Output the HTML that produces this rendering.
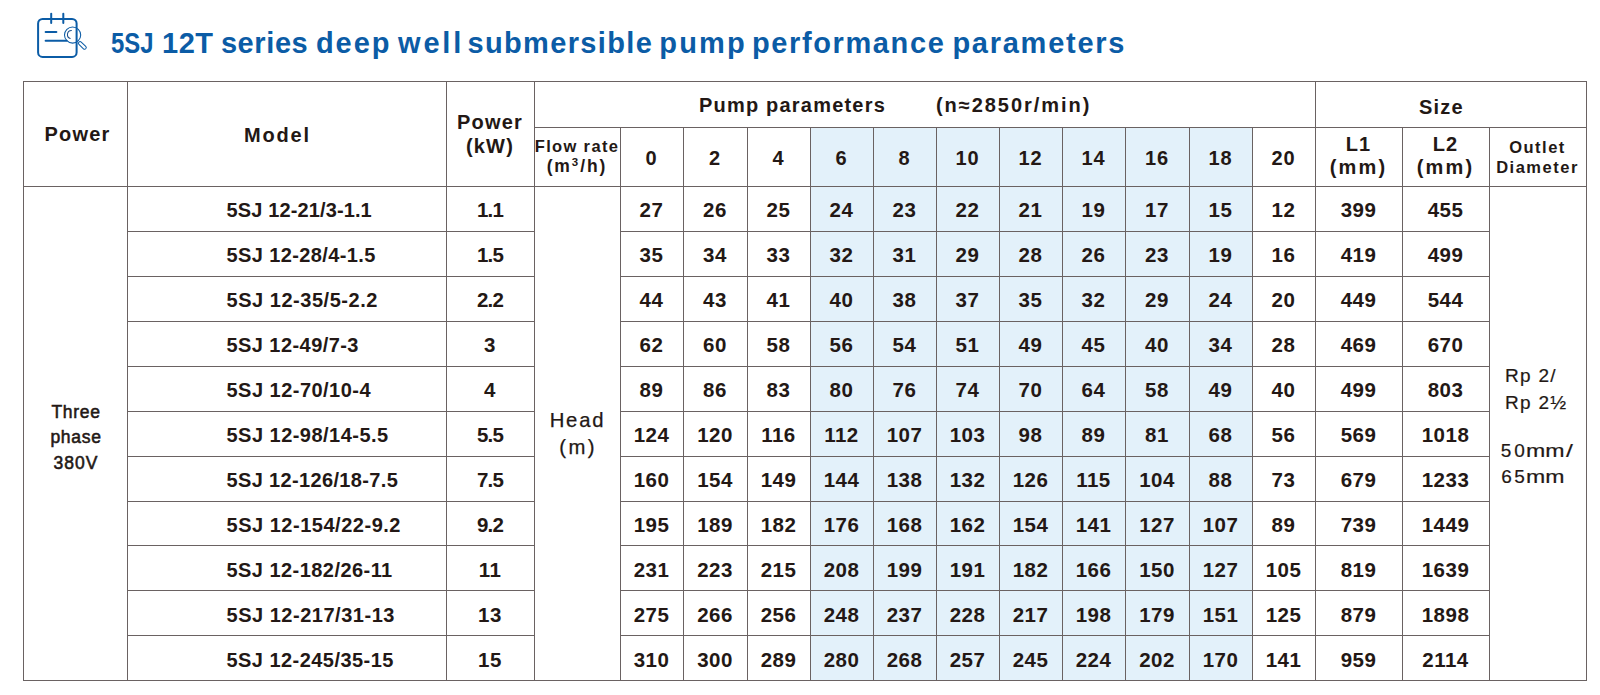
<!DOCTYPE html>
<html><head><meta charset="utf-8"><style>
*{margin:0;padding:0;box-sizing:border-box}
html,body{width:1600px;height:695px;overflow:hidden;background:#fff}
body{position:relative;font-family:"Liberation Sans",sans-serif;color:#231815}
i{position:absolute;background:#6a6262;display:block}
b.hl{position:absolute;background:#e3f1fa;display:block}
.c{position:absolute;display:flex;align-items:center;justify-content:center;text-align:center;white-space:nowrap;line-height:1}
.t{position:absolute;white-space:nowrap;font-weight:bold;line-height:1.5}
sup{font-size:11.5px;position:relative;top:1px;vertical-align:top;line-height:1;letter-spacing:2px}
.a{position:absolute;white-space:nowrap;line-height:1}
.icon{position:absolute;left:0;top:0}
.title{position:absolute;transform-origin:0 0;top:29px;font-size:29px;font-weight:bold;color:#0b5ca6;white-space:nowrap;letter-spacing:0.94px;line-height:1}
</style></head><body>
<svg class="icon" width="100" height="70" viewBox="0 0 100 70">
<g fill="none" stroke="#0b5ca6" stroke-linecap="round">
<rect x="38.1" y="18.9" width="38.5" height="38" rx="4.5" stroke-width="2"/>
<line x1="51.2" y1="13.8" x2="51.2" y2="23" stroke-width="2"/>
<line x1="63.3" y1="13.8" x2="63.3" y2="23" stroke-width="2"/>
<line x1="45.6" y1="32" x2="56.4" y2="32" stroke-width="2"/>
<line x1="45.6" y1="40.8" x2="66.6" y2="40.8" stroke-width="2"/>
<circle cx="72.6" cy="35" r="8.1" stroke-width="1.05"/>
<path d="M71.4 30.6 A4 4 0 0 0 70.2 38.4" stroke-width="1.05" stroke="#1d4f8a"/>
<rect x="78.9" y="40.4" width="9.6" height="3.3" rx="1.65" transform="rotate(44.2 78.9 42.05)" stroke-width="1"/>
</g></svg>
<div class="title" style="left:110.68px;letter-spacing:0px;transform:scaleX(0.8245)">5SJ</div><div class="title" style="left:162px;letter-spacing:0.55px;transform:scaleX(1)">12T</div><div class="title" style="left:220.9px;letter-spacing:0.6px;transform:scaleX(1)">series</div><div class="title" style="left:315.9px;letter-spacing:1.95px;transform:scaleX(1)">deep</div><div class="title" style="left:398.1px;letter-spacing:2.767px;transform:scaleX(1)">well</div><div class="title" style="left:467.5px;letter-spacing:1.35px;transform:scaleX(1)">submersible</div><div class="title" style="left:659.25px;letter-spacing:2.167px;transform:scaleX(1)">pump</div><div class="title" style="left:752px;letter-spacing:1.61px;transform:scaleX(1)">performance</div><div class="title" style="left:952.4px;letter-spacing:1.744px;transform:scaleX(1)">parameters</div>
<b class="hl" style="left:810px;top:127px;width:442px;height:553px"></b>
<i style="left:23px;top:81px;width:1564px;height:1px"></i>
<i style="left:534px;top:127px;width:1053px;height:1px"></i>
<i style="left:23px;top:186px;width:1564px;height:1px"></i>
<i style="left:127px;top:231px;width:407px;height:1px"></i>
<i style="left:620px;top:231px;width:869px;height:1px"></i>
<i style="left:127px;top:276px;width:407px;height:1px"></i>
<i style="left:620px;top:276px;width:869px;height:1px"></i>
<i style="left:127px;top:321px;width:407px;height:1px"></i>
<i style="left:620px;top:321px;width:869px;height:1px"></i>
<i style="left:127px;top:366px;width:407px;height:1px"></i>
<i style="left:620px;top:366px;width:869px;height:1px"></i>
<i style="left:127px;top:411px;width:407px;height:1px"></i>
<i style="left:620px;top:411px;width:869px;height:1px"></i>
<i style="left:127px;top:456px;width:407px;height:1px"></i>
<i style="left:620px;top:456px;width:869px;height:1px"></i>
<i style="left:127px;top:501px;width:407px;height:1px"></i>
<i style="left:620px;top:501px;width:869px;height:1px"></i>
<i style="left:127px;top:545px;width:407px;height:1px"></i>
<i style="left:620px;top:545px;width:869px;height:1px"></i>
<i style="left:127px;top:590px;width:407px;height:1px"></i>
<i style="left:620px;top:590px;width:869px;height:1px"></i>
<i style="left:127px;top:635px;width:407px;height:1px"></i>
<i style="left:620px;top:635px;width:869px;height:1px"></i>
<i style="left:23px;top:680px;width:1564px;height:1px"></i>
<i style="left:23px;top:81px;width:1px;height:600px"></i>
<i style="left:127px;top:81px;width:1px;height:600px"></i>
<i style="left:446px;top:81px;width:1px;height:600px"></i>
<i style="left:534px;top:81px;width:1px;height:600px"></i>
<i style="left:1315px;top:81px;width:1px;height:600px"></i>
<i style="left:1586px;top:81px;width:1px;height:600px"></i>
<i style="left:620px;top:127px;width:1px;height:554px"></i>
<i style="left:683px;top:127px;width:1px;height:554px"></i>
<i style="left:747px;top:127px;width:1px;height:554px"></i>
<i style="left:810px;top:127px;width:1px;height:554px"></i>
<i style="left:873px;top:127px;width:1px;height:554px"></i>
<i style="left:936px;top:127px;width:1px;height:554px"></i>
<i style="left:999px;top:127px;width:1px;height:554px"></i>
<i style="left:1062px;top:127px;width:1px;height:554px"></i>
<i style="left:1125px;top:127px;width:1px;height:554px"></i>
<i style="left:1189px;top:127px;width:1px;height:554px"></i>
<i style="left:1252px;top:127px;width:1px;height:554px"></i>
<i style="left:1402px;top:127px;width:1px;height:554px"></i>
<i style="left:1489px;top:127px;width:1px;height:554px"></i>
<div class="c" style="left:25.5px;top:81.5px;width:104px;height:105px;font-size:20px;font-weight:bold;letter-spacing:1.2px;"><span>Power</span></div>
<div class="c" style="left:118px;top:82px;width:319px;height:105px;font-size:20px;font-weight:bold;letter-spacing:1.8px;"><span>Model</span></div>
<div class="c" style="left:446px;top:81px;width:88px;height:105px;font-size:20px;font-weight:bold;letter-spacing:1.2px;line-height:24px;"><span>Power<br>(kW)</span></div>
<div class="t" style="left:699px;top:89.5px;font-size:20px;letter-spacing:1.2px">Pump parameters</div>
<div class="t" style="left:936px;top:89.5px;font-size:20px;letter-spacing:1.95px">(n≈2850r/min)</div>
<div class="c" style="left:1306px;top:83.5px;width:271px;height:46px;font-size:20px;font-weight:bold;letter-spacing:1.2px;"><span>Size</span></div>
<div class="c" style="left:534px;top:126.5px;width:86px;height:59px;font-size:16.5px;font-weight:bold;letter-spacing:1.35px;line-height:20px;"><span>Flow rate<br><span style="letter-spacing:1.9px;font-size:17.5px">(m<sup>3</sup>/h)</span></span></div>
<div class="c" style="left:620px;top:128px;width:63px;height:59px;font-size:20px;font-weight:bold;letter-spacing:1px;"><span>0</span></div>
<div class="c" style="left:683px;top:128px;width:64px;height:59px;font-size:20px;font-weight:bold;letter-spacing:1px;"><span>2</span></div>
<div class="c" style="left:747px;top:128px;width:63px;height:59px;font-size:20px;font-weight:bold;letter-spacing:1px;"><span>4</span></div>
<div class="c" style="left:810px;top:128px;width:63px;height:59px;font-size:20px;font-weight:bold;letter-spacing:1px;"><span>6</span></div>
<div class="c" style="left:873px;top:128px;width:63px;height:59px;font-size:20px;font-weight:bold;letter-spacing:1px;"><span>8</span></div>
<div class="c" style="left:936px;top:128px;width:63px;height:59px;font-size:20px;font-weight:bold;letter-spacing:1px;"><span>10</span></div>
<div class="c" style="left:999px;top:128px;width:63px;height:59px;font-size:20px;font-weight:bold;letter-spacing:1px;"><span>12</span></div>
<div class="c" style="left:1062px;top:128px;width:63px;height:59px;font-size:20px;font-weight:bold;letter-spacing:1px;"><span>14</span></div>
<div class="c" style="left:1125px;top:128px;width:64px;height:59px;font-size:20px;font-weight:bold;letter-spacing:1px;"><span>16</span></div>
<div class="c" style="left:1189px;top:128px;width:63px;height:59px;font-size:20px;font-weight:bold;letter-spacing:1px;"><span>18</span></div>
<div class="c" style="left:1252px;top:128px;width:63px;height:59px;font-size:20px;font-weight:bold;letter-spacing:1px;"><span>20</span></div>
<div class="c" style="left:1315px;top:126.0px;width:87px;height:59px;font-size:20px;font-weight:bold;letter-spacing:1.2px;line-height:23px;"><span>L1<br><span style="letter-spacing:2.2px">(mm)</span></span></div>
<div class="c" style="left:1402px;top:126.0px;width:87px;height:59px;font-size:20px;font-weight:bold;letter-spacing:1.2px;line-height:23px;"><span>L2<br><span style="letter-spacing:2.2px">(mm)</span></span></div>
<div class="c" style="left:1489px;top:127px;width:97px;height:59px;font-size:16.5px;font-weight:bold;letter-spacing:1.5px;line-height:20px;"><span>Outlet<br>Diameter</span></div>
<div class="t" style="left:226.5px;top:195.00px;font-size:20px;letter-spacing:0.129px">5SJ 12-21/3-1.1</div>
<div class="c" style="left:446px;top:187.63px;width:88px;height:45.0px;font-size:20.5px;font-weight:bold;letter-spacing:-0.8px;"><span>1.1</span></div>
<div class="c" style="left:620px;top:187.63px;width:63px;height:45.0px;font-size:20.5px;font-weight:bold;letter-spacing:0.5px;"><span>27</span></div>
<div class="c" style="left:683px;top:187.63px;width:64px;height:45.0px;font-size:20.5px;font-weight:bold;letter-spacing:0.5px;"><span>26</span></div>
<div class="c" style="left:747px;top:187.63px;width:63px;height:45.0px;font-size:20.5px;font-weight:bold;letter-spacing:0.5px;"><span>25</span></div>
<div class="c" style="left:810px;top:187.63px;width:63px;height:45.0px;font-size:20.5px;font-weight:bold;letter-spacing:0.5px;"><span>24</span></div>
<div class="c" style="left:873px;top:187.63px;width:63px;height:45.0px;font-size:20.5px;font-weight:bold;letter-spacing:0.5px;"><span>23</span></div>
<div class="c" style="left:936px;top:187.63px;width:63px;height:45.0px;font-size:20.5px;font-weight:bold;letter-spacing:0.5px;"><span>22</span></div>
<div class="c" style="left:999px;top:187.63px;width:63px;height:45.0px;font-size:20.5px;font-weight:bold;letter-spacing:0.5px;"><span>21</span></div>
<div class="c" style="left:1062px;top:187.63px;width:63px;height:45.0px;font-size:20.5px;font-weight:bold;letter-spacing:0.5px;"><span>19</span></div>
<div class="c" style="left:1125px;top:187.63px;width:64px;height:45.0px;font-size:20.5px;font-weight:bold;letter-spacing:0.5px;"><span>17</span></div>
<div class="c" style="left:1189px;top:187.63px;width:63px;height:45.0px;font-size:20.5px;font-weight:bold;letter-spacing:0.5px;"><span>15</span></div>
<div class="c" style="left:1252px;top:187.63px;width:63px;height:45.0px;font-size:20.5px;font-weight:bold;letter-spacing:0.5px;"><span>12</span></div>
<div class="c" style="left:1315px;top:187.63px;width:87px;height:45.0px;font-size:20.5px;font-weight:bold;letter-spacing:0.5px;"><span>399</span></div>
<div class="c" style="left:1402px;top:187.63px;width:87px;height:45.0px;font-size:20.5px;font-weight:bold;letter-spacing:0.5px;"><span>455</span></div>
<div class="t" style="left:226.5px;top:240.02px;font-size:20px;letter-spacing:0.393px">5SJ 12-28/4-1.5</div>
<div class="c" style="left:446px;top:232.65px;width:88px;height:44.99999999999997px;font-size:20.5px;font-weight:bold;letter-spacing:-0.8px;"><span>1.5</span></div>
<div class="c" style="left:620px;top:232.65px;width:63px;height:44.99999999999997px;font-size:20.5px;font-weight:bold;letter-spacing:0.5px;"><span>35</span></div>
<div class="c" style="left:683px;top:232.65px;width:64px;height:44.99999999999997px;font-size:20.5px;font-weight:bold;letter-spacing:0.5px;"><span>34</span></div>
<div class="c" style="left:747px;top:232.65px;width:63px;height:44.99999999999997px;font-size:20.5px;font-weight:bold;letter-spacing:0.5px;"><span>33</span></div>
<div class="c" style="left:810px;top:232.65px;width:63px;height:44.99999999999997px;font-size:20.5px;font-weight:bold;letter-spacing:0.5px;"><span>32</span></div>
<div class="c" style="left:873px;top:232.65px;width:63px;height:44.99999999999997px;font-size:20.5px;font-weight:bold;letter-spacing:0.5px;"><span>31</span></div>
<div class="c" style="left:936px;top:232.65px;width:63px;height:44.99999999999997px;font-size:20.5px;font-weight:bold;letter-spacing:0.5px;"><span>29</span></div>
<div class="c" style="left:999px;top:232.65px;width:63px;height:44.99999999999997px;font-size:20.5px;font-weight:bold;letter-spacing:0.5px;"><span>28</span></div>
<div class="c" style="left:1062px;top:232.65px;width:63px;height:44.99999999999997px;font-size:20.5px;font-weight:bold;letter-spacing:0.5px;"><span>26</span></div>
<div class="c" style="left:1125px;top:232.65px;width:64px;height:44.99999999999997px;font-size:20.5px;font-weight:bold;letter-spacing:0.5px;"><span>23</span></div>
<div class="c" style="left:1189px;top:232.65px;width:63px;height:44.99999999999997px;font-size:20.5px;font-weight:bold;letter-spacing:0.5px;"><span>19</span></div>
<div class="c" style="left:1252px;top:232.65px;width:63px;height:44.99999999999997px;font-size:20.5px;font-weight:bold;letter-spacing:0.5px;"><span>16</span></div>
<div class="c" style="left:1315px;top:232.65px;width:87px;height:44.99999999999997px;font-size:20.5px;font-weight:bold;letter-spacing:0.5px;"><span>419</span></div>
<div class="c" style="left:1402px;top:232.65px;width:87px;height:44.99999999999997px;font-size:20.5px;font-weight:bold;letter-spacing:0.5px;"><span>499</span></div>
<div class="t" style="left:226.5px;top:285.04px;font-size:20px;letter-spacing:0.536px">5SJ 12-35/5-2.2</div>
<div class="c" style="left:446px;top:277.67px;width:88px;height:45.0px;font-size:20.5px;font-weight:bold;letter-spacing:-0.8px;"><span>2.2</span></div>
<div class="c" style="left:620px;top:277.67px;width:63px;height:45.0px;font-size:20.5px;font-weight:bold;letter-spacing:0.5px;"><span>44</span></div>
<div class="c" style="left:683px;top:277.67px;width:64px;height:45.0px;font-size:20.5px;font-weight:bold;letter-spacing:0.5px;"><span>43</span></div>
<div class="c" style="left:747px;top:277.67px;width:63px;height:45.0px;font-size:20.5px;font-weight:bold;letter-spacing:0.5px;"><span>41</span></div>
<div class="c" style="left:810px;top:277.67px;width:63px;height:45.0px;font-size:20.5px;font-weight:bold;letter-spacing:0.5px;"><span>40</span></div>
<div class="c" style="left:873px;top:277.67px;width:63px;height:45.0px;font-size:20.5px;font-weight:bold;letter-spacing:0.5px;"><span>38</span></div>
<div class="c" style="left:936px;top:277.67px;width:63px;height:45.0px;font-size:20.5px;font-weight:bold;letter-spacing:0.5px;"><span>37</span></div>
<div class="c" style="left:999px;top:277.67px;width:63px;height:45.0px;font-size:20.5px;font-weight:bold;letter-spacing:0.5px;"><span>35</span></div>
<div class="c" style="left:1062px;top:277.67px;width:63px;height:45.0px;font-size:20.5px;font-weight:bold;letter-spacing:0.5px;"><span>32</span></div>
<div class="c" style="left:1125px;top:277.67px;width:64px;height:45.0px;font-size:20.5px;font-weight:bold;letter-spacing:0.5px;"><span>29</span></div>
<div class="c" style="left:1189px;top:277.67px;width:63px;height:45.0px;font-size:20.5px;font-weight:bold;letter-spacing:0.5px;"><span>24</span></div>
<div class="c" style="left:1252px;top:277.67px;width:63px;height:45.0px;font-size:20.5px;font-weight:bold;letter-spacing:0.5px;"><span>20</span></div>
<div class="c" style="left:1315px;top:277.67px;width:87px;height:45.0px;font-size:20.5px;font-weight:bold;letter-spacing:0.5px;"><span>449</span></div>
<div class="c" style="left:1402px;top:277.67px;width:87px;height:45.0px;font-size:20.5px;font-weight:bold;letter-spacing:0.5px;"><span>544</span></div>
<div class="t" style="left:226.5px;top:330.06px;font-size:20px;letter-spacing:0.433px">5SJ 12-49/7-3</div>
<div class="c" style="left:446px;top:322.69000000000005px;width:88px;height:45.0px;font-size:20.5px;font-weight:bold;letter-spacing:0.5px;"><span>3</span></div>
<div class="c" style="left:620px;top:322.69000000000005px;width:63px;height:45.0px;font-size:20.5px;font-weight:bold;letter-spacing:0.5px;"><span>62</span></div>
<div class="c" style="left:683px;top:322.69000000000005px;width:64px;height:45.0px;font-size:20.5px;font-weight:bold;letter-spacing:0.5px;"><span>60</span></div>
<div class="c" style="left:747px;top:322.69000000000005px;width:63px;height:45.0px;font-size:20.5px;font-weight:bold;letter-spacing:0.5px;"><span>58</span></div>
<div class="c" style="left:810px;top:322.69000000000005px;width:63px;height:45.0px;font-size:20.5px;font-weight:bold;letter-spacing:0.5px;"><span>56</span></div>
<div class="c" style="left:873px;top:322.69000000000005px;width:63px;height:45.0px;font-size:20.5px;font-weight:bold;letter-spacing:0.5px;"><span>54</span></div>
<div class="c" style="left:936px;top:322.69000000000005px;width:63px;height:45.0px;font-size:20.5px;font-weight:bold;letter-spacing:0.5px;"><span>51</span></div>
<div class="c" style="left:999px;top:322.69000000000005px;width:63px;height:45.0px;font-size:20.5px;font-weight:bold;letter-spacing:0.5px;"><span>49</span></div>
<div class="c" style="left:1062px;top:322.69000000000005px;width:63px;height:45.0px;font-size:20.5px;font-weight:bold;letter-spacing:0.5px;"><span>45</span></div>
<div class="c" style="left:1125px;top:322.69000000000005px;width:64px;height:45.0px;font-size:20.5px;font-weight:bold;letter-spacing:0.5px;"><span>40</span></div>
<div class="c" style="left:1189px;top:322.69000000000005px;width:63px;height:45.0px;font-size:20.5px;font-weight:bold;letter-spacing:0.5px;"><span>34</span></div>
<div class="c" style="left:1252px;top:322.69000000000005px;width:63px;height:45.0px;font-size:20.5px;font-weight:bold;letter-spacing:0.5px;"><span>28</span></div>
<div class="c" style="left:1315px;top:322.69000000000005px;width:87px;height:45.0px;font-size:20.5px;font-weight:bold;letter-spacing:0.5px;"><span>469</span></div>
<div class="c" style="left:1402px;top:322.69000000000005px;width:87px;height:45.0px;font-size:20.5px;font-weight:bold;letter-spacing:0.5px;"><span>670</span></div>
<div class="t" style="left:226.5px;top:375.08px;font-size:20px;letter-spacing:0.477px">5SJ 12-70/10-4</div>
<div class="c" style="left:446px;top:367.71000000000004px;width:88px;height:45.0px;font-size:20.5px;font-weight:bold;letter-spacing:0.5px;"><span>4</span></div>
<div class="c" style="left:620px;top:367.71000000000004px;width:63px;height:45.0px;font-size:20.5px;font-weight:bold;letter-spacing:0.5px;"><span>89</span></div>
<div class="c" style="left:683px;top:367.71000000000004px;width:64px;height:45.0px;font-size:20.5px;font-weight:bold;letter-spacing:0.5px;"><span>86</span></div>
<div class="c" style="left:747px;top:367.71000000000004px;width:63px;height:45.0px;font-size:20.5px;font-weight:bold;letter-spacing:0.5px;"><span>83</span></div>
<div class="c" style="left:810px;top:367.71000000000004px;width:63px;height:45.0px;font-size:20.5px;font-weight:bold;letter-spacing:0.5px;"><span>80</span></div>
<div class="c" style="left:873px;top:367.71000000000004px;width:63px;height:45.0px;font-size:20.5px;font-weight:bold;letter-spacing:0.5px;"><span>76</span></div>
<div class="c" style="left:936px;top:367.71000000000004px;width:63px;height:45.0px;font-size:20.5px;font-weight:bold;letter-spacing:0.5px;"><span>74</span></div>
<div class="c" style="left:999px;top:367.71000000000004px;width:63px;height:45.0px;font-size:20.5px;font-weight:bold;letter-spacing:0.5px;"><span>70</span></div>
<div class="c" style="left:1062px;top:367.71000000000004px;width:63px;height:45.0px;font-size:20.5px;font-weight:bold;letter-spacing:0.5px;"><span>64</span></div>
<div class="c" style="left:1125px;top:367.71000000000004px;width:64px;height:45.0px;font-size:20.5px;font-weight:bold;letter-spacing:0.5px;"><span>58</span></div>
<div class="c" style="left:1189px;top:367.71000000000004px;width:63px;height:45.0px;font-size:20.5px;font-weight:bold;letter-spacing:0.5px;"><span>49</span></div>
<div class="c" style="left:1252px;top:367.71000000000004px;width:63px;height:45.0px;font-size:20.5px;font-weight:bold;letter-spacing:0.5px;"><span>40</span></div>
<div class="c" style="left:1315px;top:367.71000000000004px;width:87px;height:45.0px;font-size:20.5px;font-weight:bold;letter-spacing:0.5px;"><span>499</span></div>
<div class="c" style="left:1402px;top:367.71000000000004px;width:87px;height:45.0px;font-size:20.5px;font-weight:bold;letter-spacing:0.5px;"><span>803</span></div>
<div class="t" style="left:226.5px;top:420.10px;font-size:20px;letter-spacing:0.473px">5SJ 12-98/14-5.5</div>
<div class="c" style="left:446px;top:412.73px;width:88px;height:45.0px;font-size:20.5px;font-weight:bold;letter-spacing:-0.8px;"><span>5.5</span></div>
<div class="c" style="left:620px;top:412.73px;width:63px;height:45.0px;font-size:20.5px;font-weight:bold;letter-spacing:0.5px;"><span>124</span></div>
<div class="c" style="left:683px;top:412.73px;width:64px;height:45.0px;font-size:20.5px;font-weight:bold;letter-spacing:0.5px;"><span>120</span></div>
<div class="c" style="left:747px;top:412.73px;width:63px;height:45.0px;font-size:20.5px;font-weight:bold;letter-spacing:0.5px;"><span>116</span></div>
<div class="c" style="left:810px;top:412.73px;width:63px;height:45.0px;font-size:20.5px;font-weight:bold;letter-spacing:0.5px;"><span>112</span></div>
<div class="c" style="left:873px;top:412.73px;width:63px;height:45.0px;font-size:20.5px;font-weight:bold;letter-spacing:0.5px;"><span>107</span></div>
<div class="c" style="left:936px;top:412.73px;width:63px;height:45.0px;font-size:20.5px;font-weight:bold;letter-spacing:0.5px;"><span>103</span></div>
<div class="c" style="left:999px;top:412.73px;width:63px;height:45.0px;font-size:20.5px;font-weight:bold;letter-spacing:0.5px;"><span>98</span></div>
<div class="c" style="left:1062px;top:412.73px;width:63px;height:45.0px;font-size:20.5px;font-weight:bold;letter-spacing:0.5px;"><span>89</span></div>
<div class="c" style="left:1125px;top:412.73px;width:64px;height:45.0px;font-size:20.5px;font-weight:bold;letter-spacing:0.5px;"><span>81</span></div>
<div class="c" style="left:1189px;top:412.73px;width:63px;height:45.0px;font-size:20.5px;font-weight:bold;letter-spacing:0.5px;"><span>68</span></div>
<div class="c" style="left:1252px;top:412.73px;width:63px;height:45.0px;font-size:20.5px;font-weight:bold;letter-spacing:0.5px;"><span>56</span></div>
<div class="c" style="left:1315px;top:412.73px;width:87px;height:45.0px;font-size:20.5px;font-weight:bold;letter-spacing:0.5px;"><span>569</span></div>
<div class="c" style="left:1402px;top:412.73px;width:87px;height:45.0px;font-size:20.5px;font-weight:bold;letter-spacing:0.5px;"><span>1018</span></div>
<div class="t" style="left:226.5px;top:465.12px;font-size:20px;letter-spacing:0.35px">5SJ 12-126/18-7.5</div>
<div class="c" style="left:446px;top:457.75px;width:88px;height:45.0px;font-size:20.5px;font-weight:bold;letter-spacing:-0.8px;"><span>7.5</span></div>
<div class="c" style="left:620px;top:457.75px;width:63px;height:45.0px;font-size:20.5px;font-weight:bold;letter-spacing:0.5px;"><span>160</span></div>
<div class="c" style="left:683px;top:457.75px;width:64px;height:45.0px;font-size:20.5px;font-weight:bold;letter-spacing:0.5px;"><span>154</span></div>
<div class="c" style="left:747px;top:457.75px;width:63px;height:45.0px;font-size:20.5px;font-weight:bold;letter-spacing:0.5px;"><span>149</span></div>
<div class="c" style="left:810px;top:457.75px;width:63px;height:45.0px;font-size:20.5px;font-weight:bold;letter-spacing:0.5px;"><span>144</span></div>
<div class="c" style="left:873px;top:457.75px;width:63px;height:45.0px;font-size:20.5px;font-weight:bold;letter-spacing:0.5px;"><span>138</span></div>
<div class="c" style="left:936px;top:457.75px;width:63px;height:45.0px;font-size:20.5px;font-weight:bold;letter-spacing:0.5px;"><span>132</span></div>
<div class="c" style="left:999px;top:457.75px;width:63px;height:45.0px;font-size:20.5px;font-weight:bold;letter-spacing:0.5px;"><span>126</span></div>
<div class="c" style="left:1062px;top:457.75px;width:63px;height:45.0px;font-size:20.5px;font-weight:bold;letter-spacing:0.5px;"><span>115</span></div>
<div class="c" style="left:1125px;top:457.75px;width:64px;height:45.0px;font-size:20.5px;font-weight:bold;letter-spacing:0.5px;"><span>104</span></div>
<div class="c" style="left:1189px;top:457.75px;width:63px;height:45.0px;font-size:20.5px;font-weight:bold;letter-spacing:0.5px;"><span>88</span></div>
<div class="c" style="left:1252px;top:457.75px;width:63px;height:45.0px;font-size:20.5px;font-weight:bold;letter-spacing:0.5px;"><span>73</span></div>
<div class="c" style="left:1315px;top:457.75px;width:87px;height:45.0px;font-size:20.5px;font-weight:bold;letter-spacing:0.5px;"><span>679</span></div>
<div class="c" style="left:1402px;top:457.75px;width:87px;height:45.0px;font-size:20.5px;font-weight:bold;letter-spacing:0.5px;"><span>1233</span></div>
<div class="t" style="left:226.5px;top:510.14px;font-size:20px;letter-spacing:0.519px">5SJ 12-154/22-9.2</div>
<div class="c" style="left:446px;top:502.7700000000001px;width:88px;height:45.0px;font-size:20.5px;font-weight:bold;letter-spacing:-0.8px;"><span>9.2</span></div>
<div class="c" style="left:620px;top:502.7700000000001px;width:63px;height:45.0px;font-size:20.5px;font-weight:bold;letter-spacing:0.5px;"><span>195</span></div>
<div class="c" style="left:683px;top:502.7700000000001px;width:64px;height:45.0px;font-size:20.5px;font-weight:bold;letter-spacing:0.5px;"><span>189</span></div>
<div class="c" style="left:747px;top:502.7700000000001px;width:63px;height:45.0px;font-size:20.5px;font-weight:bold;letter-spacing:0.5px;"><span>182</span></div>
<div class="c" style="left:810px;top:502.7700000000001px;width:63px;height:45.0px;font-size:20.5px;font-weight:bold;letter-spacing:0.5px;"><span>176</span></div>
<div class="c" style="left:873px;top:502.7700000000001px;width:63px;height:45.0px;font-size:20.5px;font-weight:bold;letter-spacing:0.5px;"><span>168</span></div>
<div class="c" style="left:936px;top:502.7700000000001px;width:63px;height:45.0px;font-size:20.5px;font-weight:bold;letter-spacing:0.5px;"><span>162</span></div>
<div class="c" style="left:999px;top:502.7700000000001px;width:63px;height:45.0px;font-size:20.5px;font-weight:bold;letter-spacing:0.5px;"><span>154</span></div>
<div class="c" style="left:1062px;top:502.7700000000001px;width:63px;height:45.0px;font-size:20.5px;font-weight:bold;letter-spacing:0.5px;"><span>141</span></div>
<div class="c" style="left:1125px;top:502.7700000000001px;width:64px;height:45.0px;font-size:20.5px;font-weight:bold;letter-spacing:0.5px;"><span>127</span></div>
<div class="c" style="left:1189px;top:502.7700000000001px;width:63px;height:45.0px;font-size:20.5px;font-weight:bold;letter-spacing:0.5px;"><span>107</span></div>
<div class="c" style="left:1252px;top:502.7700000000001px;width:63px;height:45.0px;font-size:20.5px;font-weight:bold;letter-spacing:0.5px;"><span>89</span></div>
<div class="c" style="left:1315px;top:502.7700000000001px;width:87px;height:45.0px;font-size:20.5px;font-weight:bold;letter-spacing:0.5px;"><span>739</span></div>
<div class="c" style="left:1402px;top:502.7700000000001px;width:87px;height:45.0px;font-size:20.5px;font-weight:bold;letter-spacing:0.5px;"><span>1449</span></div>
<div class="t" style="left:226.5px;top:555.16px;font-size:20px;letter-spacing:0.447px">5SJ 12-182/26-11</div>
<div class="c" style="left:446px;top:547.7900000000001px;width:88px;height:45.0px;font-size:20.5px;font-weight:bold;letter-spacing:0.5px;"><span>11</span></div>
<div class="c" style="left:620px;top:547.7900000000001px;width:63px;height:45.0px;font-size:20.5px;font-weight:bold;letter-spacing:0.5px;"><span>231</span></div>
<div class="c" style="left:683px;top:547.7900000000001px;width:64px;height:45.0px;font-size:20.5px;font-weight:bold;letter-spacing:0.5px;"><span>223</span></div>
<div class="c" style="left:747px;top:547.7900000000001px;width:63px;height:45.0px;font-size:20.5px;font-weight:bold;letter-spacing:0.5px;"><span>215</span></div>
<div class="c" style="left:810px;top:547.7900000000001px;width:63px;height:45.0px;font-size:20.5px;font-weight:bold;letter-spacing:0.5px;"><span>208</span></div>
<div class="c" style="left:873px;top:547.7900000000001px;width:63px;height:45.0px;font-size:20.5px;font-weight:bold;letter-spacing:0.5px;"><span>199</span></div>
<div class="c" style="left:936px;top:547.7900000000001px;width:63px;height:45.0px;font-size:20.5px;font-weight:bold;letter-spacing:0.5px;"><span>191</span></div>
<div class="c" style="left:999px;top:547.7900000000001px;width:63px;height:45.0px;font-size:20.5px;font-weight:bold;letter-spacing:0.5px;"><span>182</span></div>
<div class="c" style="left:1062px;top:547.7900000000001px;width:63px;height:45.0px;font-size:20.5px;font-weight:bold;letter-spacing:0.5px;"><span>166</span></div>
<div class="c" style="left:1125px;top:547.7900000000001px;width:64px;height:45.0px;font-size:20.5px;font-weight:bold;letter-spacing:0.5px;"><span>150</span></div>
<div class="c" style="left:1189px;top:547.7900000000001px;width:63px;height:45.0px;font-size:20.5px;font-weight:bold;letter-spacing:0.5px;"><span>127</span></div>
<div class="c" style="left:1252px;top:547.7900000000001px;width:63px;height:45.0px;font-size:20.5px;font-weight:bold;letter-spacing:0.5px;"><span>105</span></div>
<div class="c" style="left:1315px;top:547.7900000000001px;width:87px;height:45.0px;font-size:20.5px;font-weight:bold;letter-spacing:0.5px;"><span>819</span></div>
<div class="c" style="left:1402px;top:547.7900000000001px;width:87px;height:45.0px;font-size:20.5px;font-weight:bold;letter-spacing:0.5px;"><span>1639</span></div>
<div class="t" style="left:226.5px;top:600.18px;font-size:20px;letter-spacing:0.52px">5SJ 12-217/31-13</div>
<div class="c" style="left:446px;top:592.8100000000001px;width:88px;height:45.0px;font-size:20.5px;font-weight:bold;letter-spacing:0.5px;"><span>13</span></div>
<div class="c" style="left:620px;top:592.8100000000001px;width:63px;height:45.0px;font-size:20.5px;font-weight:bold;letter-spacing:0.5px;"><span>275</span></div>
<div class="c" style="left:683px;top:592.8100000000001px;width:64px;height:45.0px;font-size:20.5px;font-weight:bold;letter-spacing:0.5px;"><span>266</span></div>
<div class="c" style="left:747px;top:592.8100000000001px;width:63px;height:45.0px;font-size:20.5px;font-weight:bold;letter-spacing:0.5px;"><span>256</span></div>
<div class="c" style="left:810px;top:592.8100000000001px;width:63px;height:45.0px;font-size:20.5px;font-weight:bold;letter-spacing:0.5px;"><span>248</span></div>
<div class="c" style="left:873px;top:592.8100000000001px;width:63px;height:45.0px;font-size:20.5px;font-weight:bold;letter-spacing:0.5px;"><span>237</span></div>
<div class="c" style="left:936px;top:592.8100000000001px;width:63px;height:45.0px;font-size:20.5px;font-weight:bold;letter-spacing:0.5px;"><span>228</span></div>
<div class="c" style="left:999px;top:592.8100000000001px;width:63px;height:45.0px;font-size:20.5px;font-weight:bold;letter-spacing:0.5px;"><span>217</span></div>
<div class="c" style="left:1062px;top:592.8100000000001px;width:63px;height:45.0px;font-size:20.5px;font-weight:bold;letter-spacing:0.5px;"><span>198</span></div>
<div class="c" style="left:1125px;top:592.8100000000001px;width:64px;height:45.0px;font-size:20.5px;font-weight:bold;letter-spacing:0.5px;"><span>179</span></div>
<div class="c" style="left:1189px;top:592.8100000000001px;width:63px;height:45.0px;font-size:20.5px;font-weight:bold;letter-spacing:0.5px;"><span>151</span></div>
<div class="c" style="left:1252px;top:592.8100000000001px;width:63px;height:45.0px;font-size:20.5px;font-weight:bold;letter-spacing:0.5px;"><span>125</span></div>
<div class="c" style="left:1315px;top:592.8100000000001px;width:87px;height:45.0px;font-size:20.5px;font-weight:bold;letter-spacing:0.5px;"><span>879</span></div>
<div class="c" style="left:1402px;top:592.8100000000001px;width:87px;height:45.0px;font-size:20.5px;font-weight:bold;letter-spacing:0.5px;"><span>1898</span></div>
<div class="t" style="left:226.5px;top:645.20px;font-size:20px;letter-spacing:0.453px">5SJ 12-245/35-15</div>
<div class="c" style="left:446px;top:637.83px;width:88px;height:45.0px;font-size:20.5px;font-weight:bold;letter-spacing:0.5px;"><span>15</span></div>
<div class="c" style="left:620px;top:637.83px;width:63px;height:45.0px;font-size:20.5px;font-weight:bold;letter-spacing:0.5px;"><span>310</span></div>
<div class="c" style="left:683px;top:637.83px;width:64px;height:45.0px;font-size:20.5px;font-weight:bold;letter-spacing:0.5px;"><span>300</span></div>
<div class="c" style="left:747px;top:637.83px;width:63px;height:45.0px;font-size:20.5px;font-weight:bold;letter-spacing:0.5px;"><span>289</span></div>
<div class="c" style="left:810px;top:637.83px;width:63px;height:45.0px;font-size:20.5px;font-weight:bold;letter-spacing:0.5px;"><span>280</span></div>
<div class="c" style="left:873px;top:637.83px;width:63px;height:45.0px;font-size:20.5px;font-weight:bold;letter-spacing:0.5px;"><span>268</span></div>
<div class="c" style="left:936px;top:637.83px;width:63px;height:45.0px;font-size:20.5px;font-weight:bold;letter-spacing:0.5px;"><span>257</span></div>
<div class="c" style="left:999px;top:637.83px;width:63px;height:45.0px;font-size:20.5px;font-weight:bold;letter-spacing:0.5px;"><span>245</span></div>
<div class="c" style="left:1062px;top:637.83px;width:63px;height:45.0px;font-size:20.5px;font-weight:bold;letter-spacing:0.5px;"><span>224</span></div>
<div class="c" style="left:1125px;top:637.83px;width:64px;height:45.0px;font-size:20.5px;font-weight:bold;letter-spacing:0.5px;"><span>202</span></div>
<div class="c" style="left:1189px;top:637.83px;width:63px;height:45.0px;font-size:20.5px;font-weight:bold;letter-spacing:0.5px;"><span>170</span></div>
<div class="c" style="left:1252px;top:637.83px;width:63px;height:45.0px;font-size:20.5px;font-weight:bold;letter-spacing:0.5px;"><span>141</span></div>
<div class="c" style="left:1315px;top:637.83px;width:87px;height:45.0px;font-size:20.5px;font-weight:bold;letter-spacing:0.5px;"><span>959</span></div>
<div class="c" style="left:1402px;top:637.83px;width:87px;height:45.0px;font-size:20.5px;font-weight:bold;letter-spacing:0.5px;"><span>2114</span></div>
<div class="c" style="left:24px;top:191px;width:104px;height:494px;font-size:17.5px;font-weight:normal;letter-spacing:0.7px;line-height:25.6px;-webkit-text-stroke:0.55px #231815;"><span>Three<br>phase<br><span style="letter-spacing:1px">380V</span></span></div>
<div class="a" style="left:549.7px;top:409.6px;font-size:20.3px;font-weight:normal;letter-spacing:1.767px;-webkit-text-stroke:0.25px #231815">Head</div>
<div class="a" style="left:559.2px;top:436.7px;font-size:20.3px;font-weight:normal;letter-spacing:2.5px;-webkit-text-stroke:0.25px #231815">(m)</div>
<div class="a" style="left:1505.1px;top:365.7px;font-size:19px;font-weight:normal;letter-spacing:1.25px;-webkit-text-stroke:0.2px #231815">Rp 2/</div>
<div class="a" style="left:1505.1px;top:392.9px;font-size:19px;font-weight:normal;letter-spacing:1.275px;-webkit-text-stroke:0.2px #231815">Rp 2½</div>
<div class="a" style="left:1500.8px;top:441.0px;font-size:19px;font-weight:normal;letter-spacing:3.0px;-webkit-text-stroke:0.2px #231815">50</div>
<div class="a" style="left:1525.8px;top:441.0px;font-size:19px;font-weight:normal;letter-spacing:0px;-webkit-text-stroke:0.2px #231815;transform:scaleX(1.217);transform-origin:0 0">mm</div>
<div class="a" style="left:1565.9px;top:441.0px;font-size:19px;font-weight:normal;letter-spacing:0px;-webkit-text-stroke:0.2px #231815;transform:scaleX(1.3);transform-origin:0 0">/</div>
<div class="a" style="left:1501.2px;top:466.5px;font-size:19px;font-weight:normal;letter-spacing:2.6px;-webkit-text-stroke:0.2px #231815">65</div>
<div class="a" style="left:1526.2px;top:466.5px;font-size:19px;font-weight:normal;letter-spacing:0px;-webkit-text-stroke:0.2px #231815;transform:scaleX(1.214);transform-origin:0 0">mm</div>
</body></html>
